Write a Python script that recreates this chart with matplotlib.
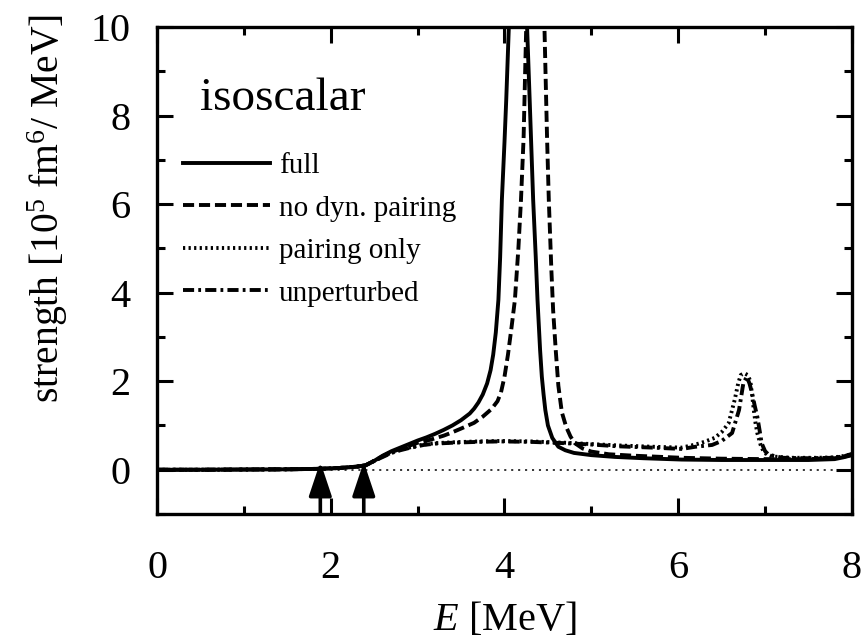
import matplotlib
matplotlib.use("Agg")
import matplotlib.pyplot as plt

plt.rcParams["font.family"] = ["Liberation Serif", "DejaVu Serif"]
plt.rcParams["mathtext.fontset"] = "custom"
plt.rcParams["mathtext.rm"] = "Liberation Serif"
plt.rcParams["mathtext.it"] = "Liberation Serif:italic"
plt.rcParams["lines.scale_dashes"] = False

# Strength functions (10^5 fm^6/MeV) versus excitation energy E (MeV)
e_full = [0.0, 0.5, 1.0, 1.5, 1.85, 2.1, 2.3, 2.4, 2.5, 2.6, 2.7, 2.8, 2.9, 3.0,
          3.1, 3.2, 3.3, 3.4, 3.5, 3.6, 3.65, 3.7, 3.75, 3.8, 3.84, 3.87, 3.9,
          3.93, 3.95, 3.97, 4.0, 4.02, 4.05, 4.08, 4.12, 4.155, 4.19, 4.23,
          4.26, 4.29, 4.33, 4.36, 4.38, 4.41, 4.43, 4.45, 4.47, 4.5, 4.55,
          4.62, 4.7, 4.8, 5.0, 5.27, 5.6, 6.04, 6.5, 7.0, 7.5, 7.8, 7.9, 8.0]
s_full = [0.0, 0.0, 0.005, 0.01, 0.02, 0.04, 0.07, 0.10, 0.20, 0.32, 0.42, 0.50,
          0.58, 0.66, 0.73, 0.81, 0.90, 1.00, 1.12, 1.27, 1.38, 1.52, 1.70,
          1.95, 2.25, 2.60, 3.1, 3.84, 4.8, 6.1, 7.4, 8.35, 10.0, 13.0, 20.0,
          25.0, 19.0, 12.5, 10.0, 8.35, 6.1, 4.8, 3.84, 2.7, 2.1, 1.7, 1.35,
          1.0, 0.72, 0.52, 0.44, 0.38, 0.33, 0.29, 0.26, 0.23, 0.22, 0.22,
          0.22, 0.24, 0.28, 0.33]

e_nodyn = [0.0, 0.5, 1.0, 1.5, 1.85, 2.1, 2.3, 2.4, 2.5, 2.6, 2.7, 2.8, 2.9,
           3.0, 3.15, 3.3, 3.38, 3.5, 3.65, 3.75, 3.85, 3.92, 3.96, 4.0, 4.04,
           4.08, 4.12, 4.16, 4.19, 4.22, 4.25, 4.29, 4.33, 4.355, 4.38, 4.42,
           4.46, 4.49, 4.51, 4.54, 4.56, 4.59, 4.62, 4.66, 4.71, 4.76, 4.81,
           4.9, 5.0, 5.2, 5.46, 6.04, 6.5, 7.0, 7.5, 7.8, 7.9, 8.0]
s_nodyn = [0.0, 0.0, 0.005, 0.01, 0.02, 0.04, 0.07, 0.10, 0.20, 0.31, 0.40,
           0.47, 0.54, 0.61, 0.68, 0.77, 0.83, 0.93, 1.06, 1.20, 1.37, 1.55,
           1.75, 2.1, 2.6, 3.2, 3.84, 5.0, 6.1, 7.5, 10.0, 15.0, 22.0, 25.0,
           20.0, 13.0, 10.0, 7.5, 6.1, 4.5, 3.6, 2.7, 1.9, 1.3, 0.97, 0.75,
           0.60, 0.48, 0.41, 0.35, 0.32, 0.27, 0.25, 0.24, 0.24, 0.26, 0.29,
           0.34]

e_pair = [0.0, 0.5, 1.0, 1.5, 1.85, 2.1, 2.3, 2.4, 2.5, 2.6, 2.7, 2.8, 2.9,
          3.07, 3.2, 3.4, 3.7, 3.95, 4.3, 4.7, 5.0, 5.3, 5.7, 6.04, 6.2, 6.3,
          6.42, 6.5, 6.58, 6.65, 6.69, 6.72, 6.76, 6.8, 6.83, 6.85, 6.87,
          6.89, 6.91, 6.95, 6.99, 7.08, 7.3, 7.6, 7.8, 7.9, 8.0]
s_pair = [0.0, 0.0, 0.005, 0.01, 0.02, 0.04, 0.07, 0.10, 0.20, 0.30, 0.39,
          0.45, 0.50, 0.57, 0.60, 0.62, 0.64, 0.65, 0.64, 0.61, 0.58, 0.55,
          0.52, 0.50, 0.57, 0.63, 0.72, 0.85, 1.05, 1.58, 1.95, 2.14, 2.18,
          2.14, 2.0, 1.7, 1.35, 1.05, 0.83, 0.55, 0.38, 0.30, 0.27, 0.27,
          0.28, 0.31, 0.35]

e_unpert = [0.0, 0.5, 1.0, 1.5, 1.85, 2.1, 2.3, 2.4, 2.5, 2.6, 2.7, 2.8, 2.9,
            3.07, 3.2, 3.4, 3.7, 3.95, 4.3, 4.7, 5.0, 5.3, 5.7, 6.04, 6.2,
            6.39, 6.5, 6.62, 6.7, 6.75, 6.79, 6.82, 6.85, 6.88, 6.91, 6.94,
            6.96, 7.0, 7.04, 7.2, 7.5, 7.77, 7.9, 7.97, 8.0]
s_unpert = [0.0, 0.0, 0.005, 0.01, 0.02, 0.04, 0.07, 0.10, 0.20, 0.29, 0.38,
            0.44, 0.49, 0.56, 0.59, 0.61, 0.63, 0.64, 0.63, 0.60, 0.57, 0.53,
            0.50, 0.47, 0.52, 0.56, 0.65, 0.83, 1.35, 1.96, 2.10, 1.95, 1.73,
            1.45, 1.20, 0.85, 0.60, 0.42, 0.34, 0.27, 0.26, 0.27, 0.30, 0.34,
            0.36]

# Two-quasiparticle thresholds marked by arrows (MeV)
thresholds = [1.88, 2.38]

labels = ["full", "no dyn. pairing", "pairing only", "unperturbed"]

fig = plt.figure(figsize=(8.66, 6.39), dpi=100)
ax = fig.add_axes([0.1813, 0.1956, 0.8025, 0.762])

lw = 2.8
ax.axhline(0.0, color="black", lw=1.1, ls=(0, (1.5, 3.5)), zorder=1)
ax.plot(e_full, s_full, color="black", lw=lw, ls="-", label=labels[0])
ax.plot(e_nodyn, s_nodyn, color="black", lw=lw, ls=(0, (8, 3.5)), label=labels[1])
ax.plot(e_pair, s_pair, color="black", lw=lw, ls=(0, (1.6, 2.4)), label=labels[2])
ax.plot(e_unpert, s_unpert, color="black", lw=lw, ls=(0, (8, 3, 2, 3)),
        label=labels[3])

for t in thresholds:
    ax.annotate("", xy=(t, 0.18), xytext=(t, -1.0),
                arrowprops=dict(arrowstyle="-|>,head_length=2.1,head_width=0.7",
                                lw=2.6, color="black", shrinkA=0, shrinkB=0))

ax.set_xlim(0, 8)
ax.set_ylim(-1, 10)
ax.set_xticks([0, 2, 4, 6, 8])
ax.set_xticks([1, 3, 5, 7], minor=True)
ax.set_yticks([0, 2, 4, 6, 8, 10])
ax.set_yticks([-1, 1, 3, 5, 7, 9], minor=True)
ax.tick_params(which="both", direction="in", top=True, right=True, width=2.2,
               labelsize=29)
ax.tick_params(axis="x", which="major", pad=26)
ax.tick_params(axis="y", which="major", pad=19)
ax.tick_params(which="major", length=11.5)
ax.tick_params(which="minor", length=5.8)
for sp in ax.spines.values():
    sp.set_linewidth(2.4)

ax.set_xlabel("$E$ [MeV]", fontsize=29, labelpad=10)
ax.set_ylabel("strength [10$^5$ fm$^6$/ MeV]", fontsize=28.5)
ax.yaxis.set_label_coords(-0.125, 0.628)

ax.text(0.5, 8.13, "isoscalar", fontsize=34, ha="left", va="baseline")

ax.legend(loc="upper left", bbox_to_anchor=(0.037, 0.742), frameon=False,
          fontsize=21, handlelength=3.0, handletextpad=0.3, labelspacing=0.55,
          borderpad=0, borderaxespad=0)

fig.savefig("out.png", dpi=100)
